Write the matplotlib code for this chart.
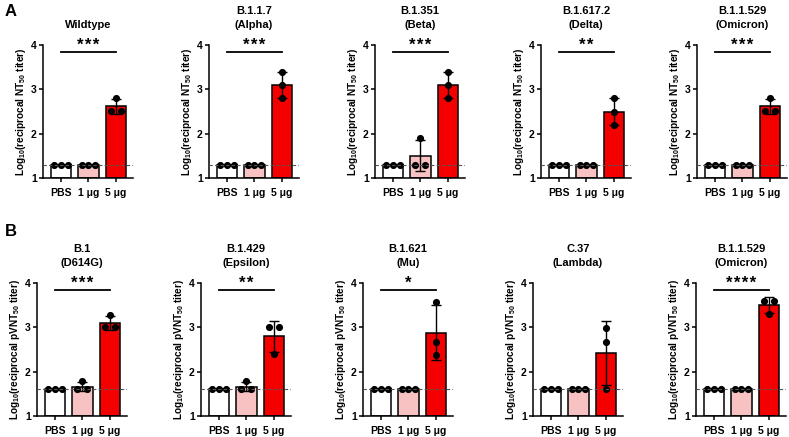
import numpy as np
import matplotlib
matplotlib.use('Agg')
import matplotlib.pyplot as plt

plt.rcParams['font.family'] = ['Liberation Sans', 'DejaVu Sans']
plt.rcParams['font.weight'] = 'bold'
plt.rcParams['mathtext.fontset'] = 'custom'
plt.rcParams['mathtext.rm'] = 'Liberation Sans:bold'
plt.rcParams['mathtext.bf'] = 'Liberation Sans:bold'
plt.rcParams['mathtext.default'] = 'bf'

# groups on the x axis
groups = ['PBS', '1 μg', '5 μg']
bar_colors = ['#ffffff', '#f8c2c2', '#f50000']

# panel A: live virus neutralisation (log10 reciprocal NT50 titer)
titles_a = ['Wildtype', 'B.1.1.7\n(Alpha)', 'B.1.351\n(Beta)', 'B.1.617.2\n(Delta)', 'B.1.1.529\n(Omicron)']
stars_a = ['***', '***', '***', '**', '***']
lod_a = 1.3
pbs_a = [[1.3, 1.3, 1.3]] * 5
low_a = [[1.3, 1.3, 1.3], [1.3, 1.3, 1.3], [1.9, 1.3, 1.3], [1.3, 1.3, 1.3], [1.3, 1.3, 1.3]]
high_a = [[2.8, 2.52, 2.52], [3.4, 3.1, 2.8], [3.4, 3.1, 2.8], [2.8, 2.5, 2.2], [2.8, 2.52, 2.52]]

# panel B: pseudovirus neutralisation (log10 reciprocal pVNT50 titer)
titles_b = ['B.1\n(D614G)', 'B.1.429\n(Epsilon)', 'B.1.621\n(Mu)', 'C.37\n(Lambda)', 'B.1.1.529\n(Omicron)']
stars_b = ['***', '**', '*', '', '****']
lod_b = 1.6
pbs_b = [[1.6, 1.6, 1.6]] * 5
low_b = [[1.78, 1.6, 1.6], [1.78, 1.6, 1.6], [1.6, 1.6, 1.6], [1.6, 1.6, 1.6], [1.6, 1.6, 1.6]]
high_b = [[3.28, 3.0, 3.0], [3.0, 3.0, 2.4], [3.58, 2.68, 2.38], [2.98, 2.68, 1.6], [3.6, 3.6, 3.3]]

W, H = 789, 437
fig = plt.figure(figsize=(W / 100, H / 100), dpi=100)

lefts_a = [43, 209, 375, 541, 697]
lefts_b = [37, 201, 363, 533, 696]
ax_w = 90


def spread(vals):
    # GraphPad style: equal values are spread side by side
    vals = np.asarray(vals)
    offs = np.zeros(len(vals))
    for v in np.unique(vals):
        idx = np.where(vals == v)[0]
        n = len(idx)
        step = 0.36 if n == 2 else 0.25
        offs[idx] = (np.arange(n) - (n - 1) / 2) * step
    return offs


def panel(left, top, title, star, lod, data, ylab):
    ax = fig.add_axes([left / W, 1 - (top + 133) / H, ax_w / W, 133 / H])
    for i, pts in enumerate(data):
        pts = np.asarray(pts)
        m = pts.mean()
        sd = pts.std(ddof=1)
        ax.bar(i, m - 1, bottom=1, width=0.74, color=bar_colors[i],
               edgecolor='black', linewidth=1.1, zorder=2)
        if sd > 0:
            ax.errorbar(i, m, yerr=sd, color='black', lw=1.0, capsize=3.5,
                        capthick=1.0, zorder=3)
        ax.scatter(i + spread(pts), pts, s=17, color='black', zorder=4,
                   clip_on=False)
    ax.axhline(lod, color='#555555', ls=(0, (3, 2)), lw=0.8, zorder=5)
    if star:
        ax.plot([0, 2], [3.85, 3.85], color='black', lw=1.3, clip_on=False)
        ax.text(1, 4.0, '\u200a'.join(star), ha='center', va='center',
                fontsize=12, fontweight='bold', clip_on=False)
    ax.set_xlim(-0.65, 2.62)
    ax.set_ylim(1, 4)
    ax.set_yticks([1, 2, 3, 4])
    ax.set_xticks(range(3))
    ax.set_xticklabels(groups)
    ax.tick_params(axis='both', labelsize=7.5, width=1.1, length=3, pad=1.5)
    ax.tick_params(axis='x', pad=4.5)
    for s in ['top', 'right']:
        ax.spines[s].set_visible(False)
    for s in ['left', 'bottom']:
        ax.spines[s].set_linewidth(1.1)
    ax.set_title(title, fontsize=8, fontweight='bold', pad=12, linespacing=1.55)
    ax.set_ylabel(ylab, fontsize=7.2, fontweight='bold', labelpad=2)
    return ax


for k in range(5):
    panel(lefts_a[k], 45, titles_a[k], stars_a[k], lod_a,
          [pbs_a[k], low_a[k], high_a[k]],
          r'Log$_{10}$(reciprocal NT$_{50}$ titer)')
    panel(lefts_b[k], 283, titles_b[k], stars_b[k], lod_b,
          [pbs_b[k], low_b[k], high_b[k]],
          r'Log$_{10}$(reciprocal pVNT$_{50}$ titer)')

fig.text(5 / W, 1 - 11 / H, 'A', fontsize=12, fontweight='bold', va='center')
fig.text(5 / W, 1 - 232 / H, 'B', fontsize=12, fontweight='bold', va='center')

fig.savefig('out.png', dpi=100)
